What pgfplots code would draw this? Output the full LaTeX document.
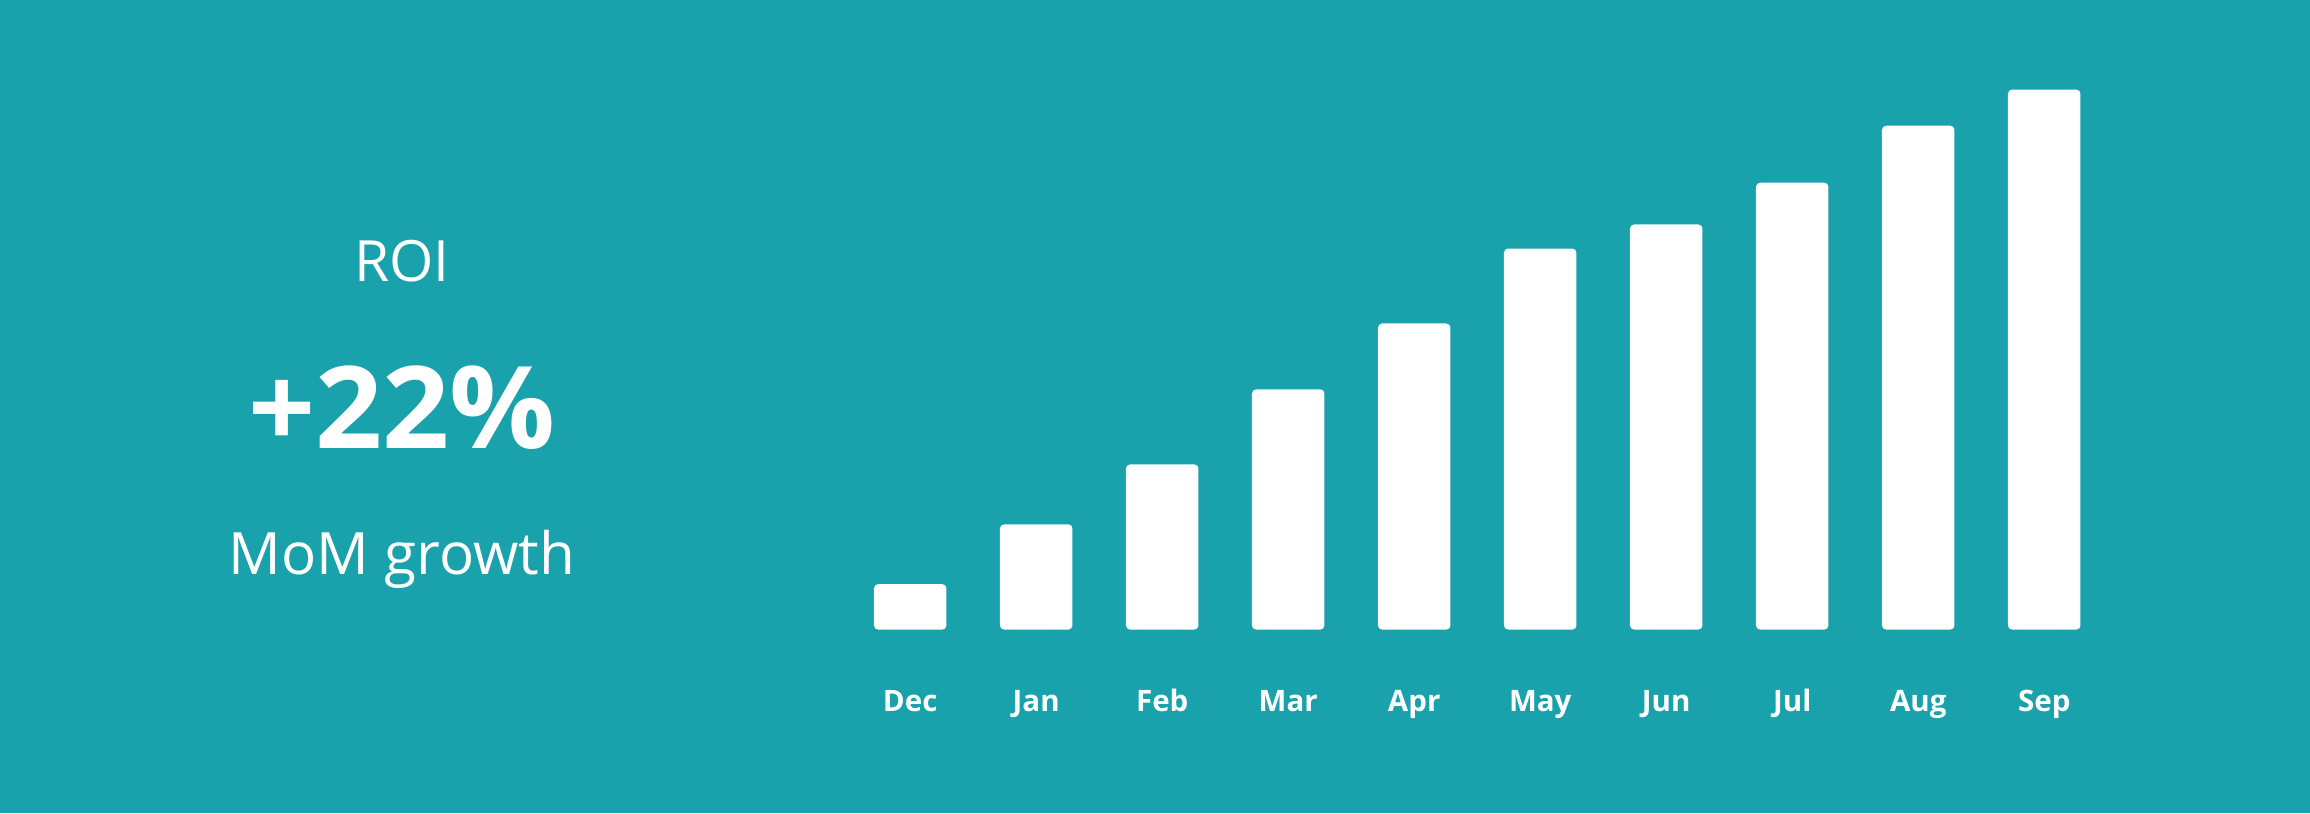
\documentclass[border=0pt]{standalone}
\usepackage{fontspec}
\setmainfont{Open Sans}
\usepackage{pgfplots}
\pgfplotsset{compat=1.18}
\definecolor{bg}{RGB}{25,161,172}

\begin{document}
\begin{tikzpicture}
% background panel, 2310 x 813 px at 100 px per cm
\fill[bg] (0,0) rectangle (23.10,8.13);

% left-hand KPI text
\node[anchor=base, text=white, font=\fontsize{16.2}{20}\selectfont] at (4.02,5.32) {ROI};
\node[anchor=base, text=white, xscale=1.03, font=\bfseries\fontsize{32.5}{40}\selectfont] at (4.02,3.65) {+22\%};
\node[anchor=base, text=white, font=\fontsize{16.6}{20}\selectfont] at (4.02,2.39) {MoM growth};

\begin{axis}[
    at={(9.102cm,1.834cm)},
    anchor=origin,
    x=1.26cm,
    y=0.01cm,
    xmin=-0.6, xmax=9.6,
    ymin=0, ymax=560,
    axis line style={draw=none},
    ybar,
    bar width=0.725cm,
    xtick=data,
    xticklabels={Dec,Jan,Feb,Mar,Apr,May,Jun,Jul,Aug,Sep},
    ytick=\empty,
    major tick length=0pt,
    xticklabel style={anchor=base, yshift=-0.82cm, text=white,
        font=\bfseries\fontsize{8.4}{10}\selectfont},
    clip=false,
]
\addplot[draw=none, fill=white, rounded corners=1.2pt] coordinates {
    (0,45.5) (1,105.4) (2,165.3) (3,240.4) (4,306.3)
    (5,381.3) (6,405.4) (7,447.2) (8,504.2) (9,540.4)
};
\end{axis}
\end{tikzpicture}
\end{document}
